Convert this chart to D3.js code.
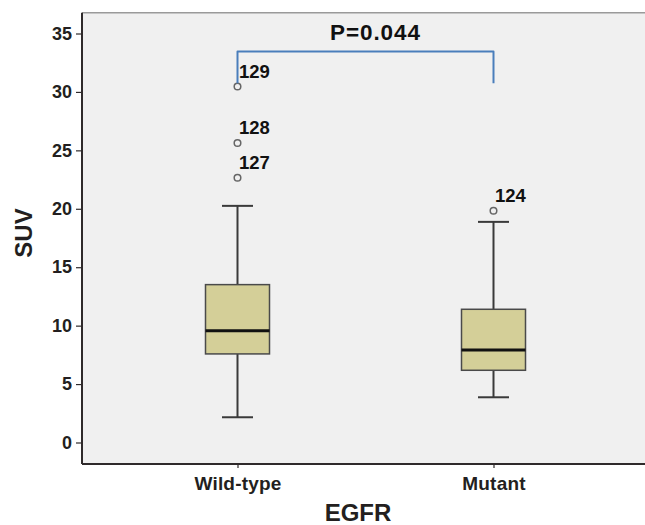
<!DOCTYPE html>
<html>
<head>
<meta charset="utf-8">
<script src="https://cdn.jsdelivr.net/npm/d3@7"></script>
<style>
  html, body { margin: 0; padding: 0; background: #ffffff; overflow: hidden; }
  svg { display: block; }
  text { font-family: "Liberation Sans", Arial, sans-serif; font-weight: bold; }
</style>
</head>
<body>
<svg id="chart" width="645" height="525"></svg>
<script>
// ---- data ----
const categories = ["Wild-type", "Mutant"];
const q1 =      [7.58, 6.18];
const medians = [9.57, 7.92];
const q3 =      [13.51, 11.40];
const whiskerLow =  [2.16, 3.87];
const whiskerHigh = [20.25, 18.88];
const outlierGroup = ["Wild-type", "Wild-type", "Wild-type", "Mutant"];
const outlierValue = [30.46, 25.63, 22.66, 19.83];
const outlierLabel = ["129", "128", "127", "124"];
const yTicks = [0, 5, 10, 15, 20, 25, 30, 35];
const bracketTop = 33.46, bracketLeftEnd = 30.75, bracketRightEnd = 30.75;
const pText = "P=0.044";
const xTitle = "EGFR", yTitle = "SUV";

// ---- layout ----
const svg = d3.select("#chart");
const plot = { left: 82, right: 645, top: 12.7, bottom: 464 };

const y = d3.scaleLinear().domain([-1.84, 36.78]).range([plot.bottom, plot.top]);
const x = d3.scalePoint().domain(categories).range([237.5, 493.5]);

// background
svg.append("rect")
  .attr("x", plot.left).attr("y", plot.top)
  .attr("width", plot.right - plot.left + 2).attr("height", plot.bottom - plot.top)
  .attr("fill", "#f0f0f0");
// top border
svg.append("line")
  .attr("x1", plot.left).attr("x2", plot.right + 2)
  .attr("y1", plot.top).attr("y2", plot.top)
  .attr("stroke", "#9a9a9a").attr("stroke-width", 1.5);

// y axis
const yAxis = d3.axisLeft(y).tickValues(yTicks).tickSize(6).tickPadding(4);
const gy = svg.append("g").attr("transform", `translate(${plot.left},0)`).call(yAxis);
gy.select(".domain").attr("d", `M0,${plot.top}V${plot.bottom}`).attr("stroke", "#2f2a2b").attr("stroke-width", 2);
gy.selectAll(".tick line").attr("stroke", "#2f2a2b").attr("stroke-width", 1.2);
gy.selectAll(".tick text").attr("fill", "#231f20").style("font-size", "18px").style("font-weight", "bold")
  .style("font-family", "'Liberation Sans', Arial, sans-serif");

// x axis
const xAxis = d3.axisBottom(x).tickSize(4).tickPadding(9);
const gx = svg.append("g").attr("transform", `translate(0,${plot.bottom})`).call(xAxis);
gx.select(".domain").attr("d", `M${plot.left},0H${plot.right + 2}`).attr("stroke", "#2f2a2b").attr("stroke-width", 2);
gx.selectAll(".tick line").attr("stroke", "#2f2a2b").attr("stroke-width", 1.2);
gx.selectAll(".tick text").attr("fill", "#231f20").style("font-size", "19px").style("font-weight", "bold")
  .style("font-family", "'Liberation Sans', Arial, sans-serif").style("letter-spacing", "0.2px");

// boxes
const boxW = 64, capW = 31;
const boxes = categories.map((c, i) => ({ c, q1: q1[i], med: medians[i], q3: q3[i], lo: whiskerLow[i], hi: whiskerHigh[i] }));
const g = svg.append("g");
boxes.forEach(b => {
  const cx = x(b.c);
  g.append("line").attr("x1", cx).attr("x2", cx).attr("y1", y(b.hi)).attr("y2", y(b.q3))
    .attr("stroke", "#3a3a3a").attr("stroke-width", 2);
  g.append("line").attr("x1", cx).attr("x2", cx).attr("y1", y(b.q1)).attr("y2", y(b.lo))
    .attr("stroke", "#3a3a3a").attr("stroke-width", 2);
  g.append("line").attr("x1", cx - capW / 2).attr("x2", cx + capW / 2).attr("y1", y(b.hi)).attr("y2", y(b.hi))
    .attr("stroke", "#3a3a3a").attr("stroke-width", 2);
  g.append("line").attr("x1", cx - capW / 2).attr("x2", cx + capW / 2).attr("y1", y(b.lo)).attr("y2", y(b.lo))
    .attr("stroke", "#3a3a3a").attr("stroke-width", 2);
  g.append("rect").attr("x", cx - boxW / 2).attr("y", y(b.q3))
    .attr("width", boxW).attr("height", y(b.q1) - y(b.q3))
    .attr("fill", "#d4cf98").attr("stroke", "#4a4a4a").attr("stroke-width", 1.5);
  g.append("line").attr("x1", cx - boxW / 2).attr("x2", cx + boxW / 2).attr("y1", y(b.med)).attr("y2", y(b.med))
    .attr("stroke", "#111111").attr("stroke-width", 3);
});

// outliers
outlierValue.forEach((v, i) => {
  const cx = x(outlierGroup[i]);
  g.append("circle").attr("cx", cx).attr("cy", y(v)).attr("r", 3.3)
    .attr("fill", "#f0f0f0").attr("stroke", "#666666").attr("stroke-width", 1.5);
  g.append("text").attr("x", cx + 1.5).attr("y", y(v) - 8.5)
    .attr("fill", "#111111").style("font-size", "18.5px").text(outlierLabel[i]);
});

// significance bracket
const xl = x(categories[0]), xr = x(categories[1]);
svg.append("path")
  .attr("d", `M${xl},${y(bracketLeftEnd)}V${y(bracketTop)}H${xr}V${y(bracketRightEnd)}`)
  .attr("fill", "none").attr("stroke", "#4a7ebb").attr("stroke-width", 2).attr("stroke-linejoin", "round");
svg.append("text").attr("x", (xl + xr) / 2 + 10).attr("y", 39.5)
  .attr("text-anchor", "middle").attr("fill", "#111111")
  .style("font-size", "22.5px").style("letter-spacing", "0.9px").text(pText);

// axis titles
svg.append("text").attr("x", 358).attr("y", 520.5).attr("text-anchor", "middle")
  .attr("fill", "#231f20").style("font-size", "24px").text(xTitle);
svg.append("text").attr("transform", "translate(32,233) rotate(-90)").attr("text-anchor", "middle")
  .attr("fill", "#231f20").style("font-size", "24px").text(yTitle);
</script>
</body>
</html>
